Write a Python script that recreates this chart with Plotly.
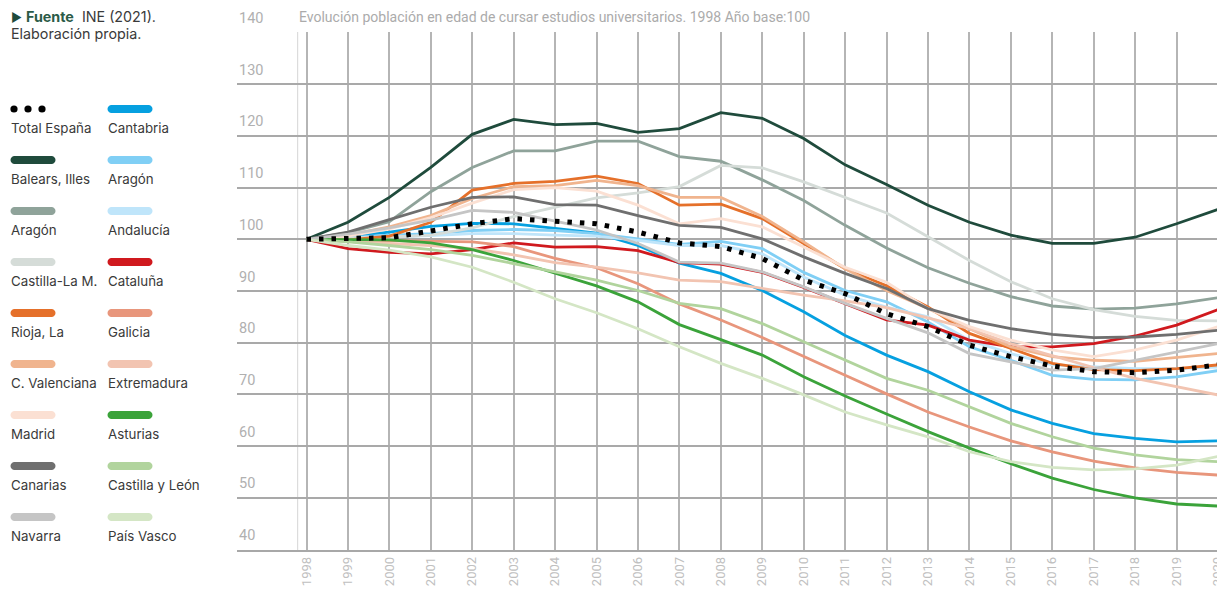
import plotly.graph_objects as go

years = list(range(1998, 2021))
year_labels = [str(y) for y in years]
y_ticks = [40, 50, 60, 70, 80, 90, 100, 110, 120, 130, 140]

total_espana = [100, 100.1, 100.3, 101.6, 103.0, 104.0, 103.5, 103.0, 101.4, 99.3, 98.6, 96.3, 92.1, 89.5, 85.6, 83.1, 79.5, 77.3, 75.5, 74.4, 74.2, 74.7, 75.7]
balears = [100, 103.3, 108.1, 113.9, 120.3, 123.2, 122.2, 122.4, 120.7, 121.4, 124.5, 123.4, 119.5, 114.4, 110.6, 106.6, 103.3, 100.8, 99.2, 99.2, 100.4, 103.0, 105.8]
aragon_gris = [100, 101.3, 103.4, 109.2, 113.9, 117.1, 117.1, 119.0, 119.0, 116.0, 115.1, 111.5, 107.5, 102.7, 98.3, 94.5, 91.5, 88.9, 87.1, 86.5, 86.7, 87.5, 88.7]
castilla_la_mancha = [100, 100.2, 100.4, 100.8, 102.2, 104.4, 106.2, 108.0, 109.0, 110.2, 114.3, 113.8, 111.1, 108.1, 105.1, 100.5, 95.9, 91.8, 88.5, 86.4, 85.1, 84.3, 84.2]
rioja = [100, 99.9, 100.6, 103.3, 109.5, 110.8, 111.2, 112.2, 110.8, 106.6, 106.8, 104.0, 99.2, 94.3, 91.0, 86.9, 81.8, 78.9, 76.0, 74.8, 74.6, 75.0, 75.7]
c_valenciana = [100, 100.8, 102.4, 104.6, 107.9, 110.2, 110.4, 111.4, 110.4, 108.1, 108.1, 104.4, 99.5, 94.3, 90.1, 86.6, 82.7, 79.2, 77.3, 76.6, 76.4, 77.1, 77.9]
madrid = [100, 100.6, 102.0, 104.2, 107.0, 109.6, 110.0, 109.3, 106.6, 103.0, 104.0, 102.4, 98.5, 94.6, 91.7, 86.6, 83.1, 80.5, 78.6, 77.3, 78.6, 80.5, 83.1]
canarias = [100, 101.4, 103.8, 106.2, 108.1, 108.2, 106.7, 106.6, 104.6, 102.7, 102.3, 100.1, 96.6, 93.4, 90.5, 86.6, 84.3, 82.7, 81.6, 81.0, 81.1, 81.6, 82.4]
navarra = [100, 101.0, 102.2, 103.7, 105.6, 105.2, 103.5, 101.8, 99.2, 95.6, 95.4, 93.7, 90.8, 87.6, 84.7, 81.9, 77.9, 76.3, 74.7, 75.0, 76.6, 78.2, 79.8]
cantabria = [100, 100.6, 101.4, 102.5, 103.1, 103.0, 102.1, 101.2, 98.8, 95.4, 93.4, 90.1, 86.0, 81.4, 77.6, 74.4, 70.5, 67.0, 64.4, 62.4, 61.5, 60.8, 61.0]
aragon_azul = [100, 100.3, 100.8, 101.1, 101.7, 101.9, 101.7, 101.1, 100.1, 99.0, 99.6, 98.2, 93.6, 90.1, 87.9, 84.0, 79.2, 76.6, 73.7, 72.9, 72.8, 73.4, 74.6]
andalucia = [100, 100.2, 100.4, 100.7, 101.1, 101.1, 100.8, 100.6, 99.8, 98.8, 98.8, 97.2, 92.7, 89.2, 86.9, 85.0, 80.5, 77.9, 75.7, 75.3, 75.0, 75.0, 75.3]
cataluna = [100, 98.2, 97.5, 97.2, 98.0, 99.3, 98.5, 98.6, 97.8, 95.5, 95.2, 93.6, 90.7, 87.5, 84.4, 83.4, 80.5, 79.2, 79.2, 79.8, 81.3, 83.4, 86.4]
galicia = [100, 99.9, 99.8, 99.7, 99.5, 98.6, 96.3, 94.5, 91.4, 87.5, 84.4, 81.0, 77.3, 73.7, 70.1, 66.6, 63.7, 61.0, 58.9, 57.1, 55.8, 54.9, 54.4]
extremadura = [100, 99.6, 99.2, 98.8, 98.2, 97.0, 95.5, 94.6, 93.5, 92.1, 91.8, 90.5, 89.2, 88.1, 86.8, 84.8, 82.7, 79.8, 77.5, 75.2, 73.1, 71.5, 69.9]
asturias = [100, 99.9, 99.9, 99.3, 98.0, 95.9, 93.5, 91.0, 87.9, 83.5, 80.6, 77.6, 73.4, 69.7, 66.2, 62.8, 59.6, 56.6, 53.8, 51.6, 50.0, 48.8, 48.4]
castilla_y_leon = [100, 99.5, 98.8, 98.0, 96.9, 95.3, 93.7, 92.1, 90.1, 87.6, 86.6, 83.7, 80.2, 76.6, 73.1, 70.8, 67.6, 64.4, 61.8, 59.6, 58.3, 57.4, 57.0]
pais_vasco = [100, 98.8, 97.9, 96.6, 94.6, 91.7, 88.5, 85.8, 82.7, 79.2, 76.0, 73.1, 69.9, 66.6, 64.1, 61.8, 58.9, 57.0, 55.9, 55.4, 55.6, 56.3, 58.0]

# (label, values, colour, legend column, legend row)
series = [
    ("Cantabria", cantabria, "#06a0e0", 1, 0),
    ("Balears, Illes", balears, "#1f4b3c", 0, 1),
    ("Aragón", aragon_azul, "#80cff5", 1, 1),
    ("Aragón", aragon_gris, "#8fa39a", 0, 2),
    ("Andalucía", andalucia, "#bfe5fa", 1, 2),
    ("Castilla-La M.", castilla_la_mancha, "#d5dcd8", 0, 3),
    ("Cataluña", cataluna, "#d0191e", 1, 3),
    ("Rioja, La", rioja, "#e5702a", 0, 4),
    ("Galicia", galicia, "#e8967c", 1, 4),
    ("C. Valenciana", c_valenciana, "#f0b48e", 0, 5),
    ("Extremadura", extremadura, "#f2c4b1", 1, 5),
    ("Madrid", madrid, "#fbe0d3", 0, 6),
    ("Asturias", asturias, "#3ba33a", 1, 6),
    ("Canarias", canarias, "#6f6f6f", 0, 7),
    ("Castilla y León", castilla_y_leon, "#b1d49d", 1, 7),
    ("Navarra", navarra, "#c5c5c5", 0, 8),
    ("País Vasco", pais_vasco, "#d4e6c5", 1, 8),
]

# page body has an 8px margin: figure is offset by 8px in the screenshot
OFF = 8
W, H = 1225, 585
L, R, T, B = 229, 8, 24, 43
PW, PH = W - L - R, H - T - B


def px(sx):
    return (sx - OFF - L) / PW


def py(sy):
    return (H - B - (sy - OFF)) / PH


fig = go.Figure()
for name, vals, color, col, row in series:
    fig.add_trace(go.Scatter(x=years, y=vals, mode="lines", name=name,
                             line=dict(color=color, width=2.8), hoverinfo="x+y+name"))
fig.add_trace(go.Scatter(x=years, y=total_espana, mode="lines", name="Total España",
                         line=dict(color="#000000", width=5, dash="4.5px,8px")))

shapes = []
annotations = []
col_x = [10, 107]
row_y0 = 109
row_dy = 51


def pill(cx, cy, color):
    w2, h2 = 22.5, 4
    k = 0.5523 * h2
    a = w2 - h2
    path = (f"M {-a},{-h2} L {a},{-h2} C {a+k},{-h2} {w2},{-k} {w2},0 "
            f"C {w2},{k} {a+k},{h2} {a},{h2} L {-a},{h2} "
            f"C {-a-k},{h2} {-w2},{k} {-w2},0 C {-w2},{-k} {-a-k},{-h2} {-a},{-h2} Z")
    return dict(type="path", xref="paper", yref="paper", xsizemode="pixel", ysizemode="pixel",
                xanchor=px(cx), yanchor=py(cy), path=path, fillcolor=color,
                line=dict(width=0), layer="above")


legend_font = dict(family="Inter", size=13.3, color="#3a3a3a")
for name, vals, color, col, row in series:
    cy = row_y0 + row * row_dy
    shapes.append(pill(col_x[col] + 23, cy, color))
    annotations.append(dict(text=name, x=px(col_x[col] - 1), y=py(cy + 19), xref="paper", yref="paper",
                            xanchor="left", yanchor="middle", showarrow=False, font=legend_font))

# Total España legend: three dots
for dx in (14, 28, 42):
    shapes.append(dict(type="circle", xref="paper", yref="paper", xsizemode="pixel", ysizemode="pixel",
                       xanchor=px(dx), yanchor=py(row_y0), x0=-3.6, x1=3.6, y0=-3.6, y1=3.6,
                       fillcolor="#000000", line=dict(width=0)))
annotations.append(dict(text="Total España", x=px(9), y=py(row_y0 + 19), xref="paper", yref="paper",
                        xanchor="left", yanchor="middle", showarrow=False, font=legend_font))

# light vertical line near y-axis
shapes.append(dict(type="line", xref="paper", yref="paper", x0=px(297.6), x1=px(297.6), y0=0, y1=1,
                   line=dict(color="#dcdcdc", width=1.2), layer="below"))

src_font = dict(family="Inter", size=14.3, color="#3a3a3a")
annotations.append(dict(
    text="<span style='color:#1f4b3c;font-size:12px'>▶</span> <b><span style='color:#2b5b47'>Fuente</span></b>  INE (2021).",
    x=px(9), y=py(17), xref="paper", yref="paper", xanchor="left", yanchor="middle", align="left",
    showarrow=False, font=src_font))
annotations.append(dict(
    text="Elaboración propia.",
    x=px(9), y=py(34), xref="paper", yref="paper", xanchor="left", yanchor="middle", align="left",
    showarrow=False, font=src_font))

annotations.append(dict(
    text="Evolución población en edad de cursar estudios universitarios. 1998 Año base:100",
    x=px(297), y=py(17), xref="paper", yref="paper", xanchor="left", yanchor="middle",
    showarrow=False, font=dict(family="Roboto", size=14, color="#ababab")))

# y tick labels, sitting above their gridlines
for v in y_ticks:
    annotations.append(dict(text=str(v), x=0, y=v, xref="paper", yref="y", xanchor="left",
                            yanchor="middle", yshift=14, showarrow=False,
                            font=dict(family="Roboto", size=14.5, color="#b0b0b0")))

fig.update_layout(
    width=W, height=H,
    margin=dict(l=L, r=R, t=T, b=B, autoexpand=False),
    paper_bgcolor="white", plot_bgcolor="white",
    showlegend=False,
    shapes=shapes, annotations=annotations,
    xaxis=dict(range=[1996.3225, 2020.169], tickmode="array", tickvals=years, ticktext=year_labels,
               tickangle=-90, showgrid=True, gridcolor="#b5b5b5", gridwidth=1.5, automargin=False,
               showline=True, linecolor="#a8a8a8", linewidth=1.5, ticks="", zeroline=False,
               ticklabeloverflow="allow",
               tickfont=dict(family="Roboto", size=13, color="#c0c0c0")),
    yaxis=dict(range=[39.9, 140.1], tickmode="array", tickvals=y_ticks,
               showgrid=True, gridcolor="#a9a9a9", gridwidth=1.5, zeroline=False, showline=False,
               ticks="", showticklabels=False, automargin=False),
)

fig.write_html("out.html")
